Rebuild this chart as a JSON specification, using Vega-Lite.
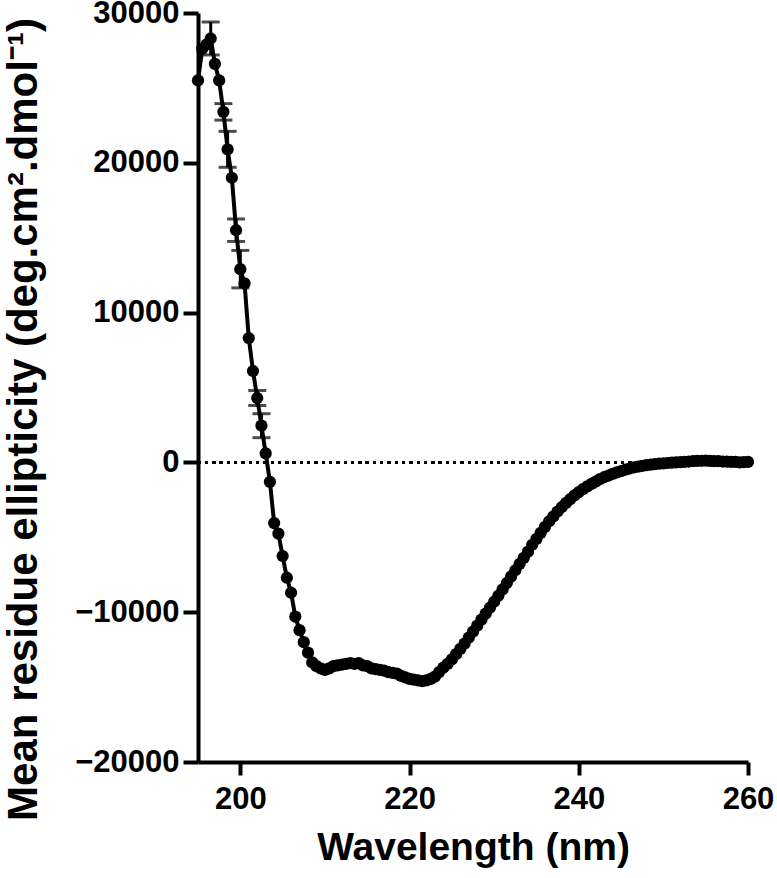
{
  "$schema": "https://vega.github.io/schema/vega-lite/v6.json",
  "width": 550,
  "height": 749,
  "autosize": {"type": "none"},
  "padding": {"left": 198, "top": 13, "right": 29, "bottom": 116},
  "background": "white",
  "config": {
    "view": {"stroke": null},
    "font": "Liberation Sans",
    "axis": {
      "grid": false,
      "domainColor": "black",
      "domainWidth": 4,
      "tickColor": "black",
      "tickWidth": 4,
      "labelColor": "black",
      "labelFont": "Liberation Sans",
      "labelFontWeight": "bold",
      "labelFontSize": 31,
      "titleColor": "black",
      "titleFont": "Liberation Sans",
      "titleFontWeight": "bold",
      "titleFontSize": 39
    }
  },
  "data": {
    "values": [
      {"wl": 195, "mre": 25500},
      {"wl": 195.5, "mre": 27600},
      {"wl": 196, "mre": 27900},
      {"wl": 196.5, "mre": 28300, "err": 1100},
      {"wl": 197, "mre": 26600},
      {"wl": 197.5, "mre": 25500},
      {"wl": 198, "mre": 23400, "err": 550},
      {"wl": 198.5, "mre": 20900, "err": 1200},
      {"wl": 199, "mre": 19000},
      {"wl": 199.5, "mre": 15500, "err": 750},
      {"wl": 200, "mre": 12900, "err": 1250},
      {"wl": 200.5, "mre": 11950},
      {"wl": 201, "mre": 8300},
      {"wl": 201.5, "mre": 6100},
      {"wl": 202, "mre": 4300, "err": 500},
      {"wl": 202.5, "mre": 2450, "err": 800},
      {"wl": 203, "mre": 600},
      {"wl": 203.5, "mre": -1300},
      {"wl": 204, "mre": -4050},
      {"wl": 204.5, "mre": -4750},
      {"wl": 205, "mre": -6250},
      {"wl": 205.5, "mre": -7700},
      {"wl": 206, "mre": -8700},
      {"wl": 206.5, "mre": -10300},
      {"wl": 207, "mre": -11200},
      {"wl": 207.5, "mre": -12000},
      {"wl": 208, "mre": -12700},
      {"wl": 208.5, "mre": -13350},
      {"wl": 209, "mre": -13600},
      {"wl": 209.5, "mre": -13750},
      {"wl": 210, "mre": -13850},
      {"wl": 210.5, "mre": -13750},
      {"wl": 211, "mre": -13600},
      {"wl": 211.5, "mre": -13550},
      {"wl": 212, "mre": -13500},
      {"wl": 212.5, "mre": -13450},
      {"wl": 213, "mre": -13400},
      {"wl": 213.5, "mre": -13450},
      {"wl": 214, "mre": -13400},
      {"wl": 214.5, "mre": -13550},
      {"wl": 215, "mre": -13600},
      {"wl": 215.5, "mre": -13750},
      {"wl": 216, "mre": -13800},
      {"wl": 216.5, "mre": -13850},
      {"wl": 217, "mre": -13900},
      {"wl": 217.5, "mre": -14000},
      {"wl": 218, "mre": -14050},
      {"wl": 218.5, "mre": -14100},
      {"wl": 219, "mre": -14250},
      {"wl": 219.5, "mre": -14350},
      {"wl": 220, "mre": -14450},
      {"wl": 220.5, "mre": -14500},
      {"wl": 221, "mre": -14550},
      {"wl": 221.5, "mre": -14600},
      {"wl": 222, "mre": -14550},
      {"wl": 222.5, "mre": -14450},
      {"wl": 223, "mre": -14300},
      {"wl": 223.5, "mre": -14000},
      {"wl": 224, "mre": -13700},
      {"wl": 224.5, "mre": -13450},
      {"wl": 225, "mre": -13150},
      {"wl": 225.5, "mre": -12800},
      {"wl": 226, "mre": -12450},
      {"wl": 226.5, "mre": -12100},
      {"wl": 227, "mre": -11700},
      {"wl": 227.5, "mre": -11300},
      {"wl": 228, "mre": -10900},
      {"wl": 228.5, "mre": -10500},
      {"wl": 229, "mre": -10100},
      {"wl": 229.5, "mre": -9700},
      {"wl": 230, "mre": -9300},
      {"wl": 230.5, "mre": -8900},
      {"wl": 231, "mre": -8480},
      {"wl": 231.5, "mre": -8050},
      {"wl": 232, "mre": -7620},
      {"wl": 232.5, "mre": -7200},
      {"wl": 233, "mre": -6780},
      {"wl": 233.5, "mre": -6370},
      {"wl": 234, "mre": -5960},
      {"wl": 234.5, "mre": -5500},
      {"wl": 235, "mre": -5100},
      {"wl": 235.5, "mre": -4700},
      {"wl": 236, "mre": -4300},
      {"wl": 236.5, "mre": -3930},
      {"wl": 237, "mre": -3600},
      {"wl": 237.5, "mre": -3280},
      {"wl": 238, "mre": -2980},
      {"wl": 238.5, "mre": -2700},
      {"wl": 239, "mre": -2450},
      {"wl": 239.5, "mre": -2200},
      {"wl": 240, "mre": -1980},
      {"wl": 240.5, "mre": -1780},
      {"wl": 241, "mre": -1600},
      {"wl": 241.5, "mre": -1430},
      {"wl": 242, "mre": -1280},
      {"wl": 242.5, "mre": -1120},
      {"wl": 243, "mre": -990},
      {"wl": 243.5, "mre": -880},
      {"wl": 244, "mre": -770},
      {"wl": 244.5, "mre": -670},
      {"wl": 245, "mre": -580},
      {"wl": 245.5, "mre": -490},
      {"wl": 246, "mre": -410},
      {"wl": 246.5, "mre": -340},
      {"wl": 247, "mre": -280},
      {"wl": 247.5, "mre": -230},
      {"wl": 248, "mre": -190},
      {"wl": 248.5, "mre": -150},
      {"wl": 249, "mre": -120},
      {"wl": 249.5, "mre": -90},
      {"wl": 250, "mre": -60},
      {"wl": 250.5, "mre": -40},
      {"wl": 251, "mre": -20},
      {"wl": 251.5, "mre": 0},
      {"wl": 252, "mre": 20},
      {"wl": 252.5, "mre": 40},
      {"wl": 253, "mre": 60},
      {"wl": 253.5, "mre": 80},
      {"wl": 254, "mre": 100},
      {"wl": 254.5, "mre": 110},
      {"wl": 255, "mre": 120},
      {"wl": 255.5, "mre": 100},
      {"wl": 256, "mre": 90},
      {"wl": 256.5, "mre": 80},
      {"wl": 257, "mre": 60},
      {"wl": 257.5, "mre": 50},
      {"wl": 258, "mre": 40},
      {"wl": 258.5, "mre": 30},
      {"wl": 259, "mre": 0},
      {"wl": 259.5, "mre": 20},
      {"wl": 260, "mre": 30}
    ]
  },
  "encoding": {
    "x": {
      "field": "wl",
      "type": "quantitative",
      "scale": {"domain": [195, 260], "nice": false, "zero": false},
      "axis": {
        "title": "Wavelength (nm)",
        "values": [200, 220, 240, 260],
        "tickSize": 13,
        "labelPadding": 9,
        "titleY": 66,
        "labelFlush": false
      }
    },
    "y": {
      "field": "mre",
      "type": "quantitative",
      "scale": {"domain": [-20000, 30000], "nice": false, "zero": false},
      "axis": {
        "title": "Mean residue ellipticity (deg.cm².dmol⁻¹)",
        "titleFontSize": 42,
        "values": [-20000, -10000, 0, 10000, 20000, 30000],
        "format": "d",
        "tickSize": 15,
        "labelPadding": 4,
        "titleX": -153,
        "titleY": 406,
        "labelFlush": false
      }
    }
  },
  "layer": [
    {
      "mark": {"type": "rule", "color": "black", "strokeWidth": 2.5, "strokeDash": [2.5, 4.8]},
      "encoding": {"y": {"datum": 0}, "x": {"datum": 195}, "x2": {"datum": 260}}
    },
    {
      "mark": {"type": "line", "color": "black", "strokeWidth": 4}
    },
    {
      "transform": [{"filter": "datum.err > 0"}],
      "mark": {
        "type": "errorbar",
        "color": "black",
        "ticks": {"size": 18, "thickness": 3, "color": "black"},
        "rule": {"strokeWidth": 3}
      },
      "encoding": {
        "yError": {"field": "err"}
      }
    },
    {
      "mark": {"type": "point", "filled": true, "shape": "circle", "size": 150, "color": "black", "opacity": 1}
    }
  ]
}
